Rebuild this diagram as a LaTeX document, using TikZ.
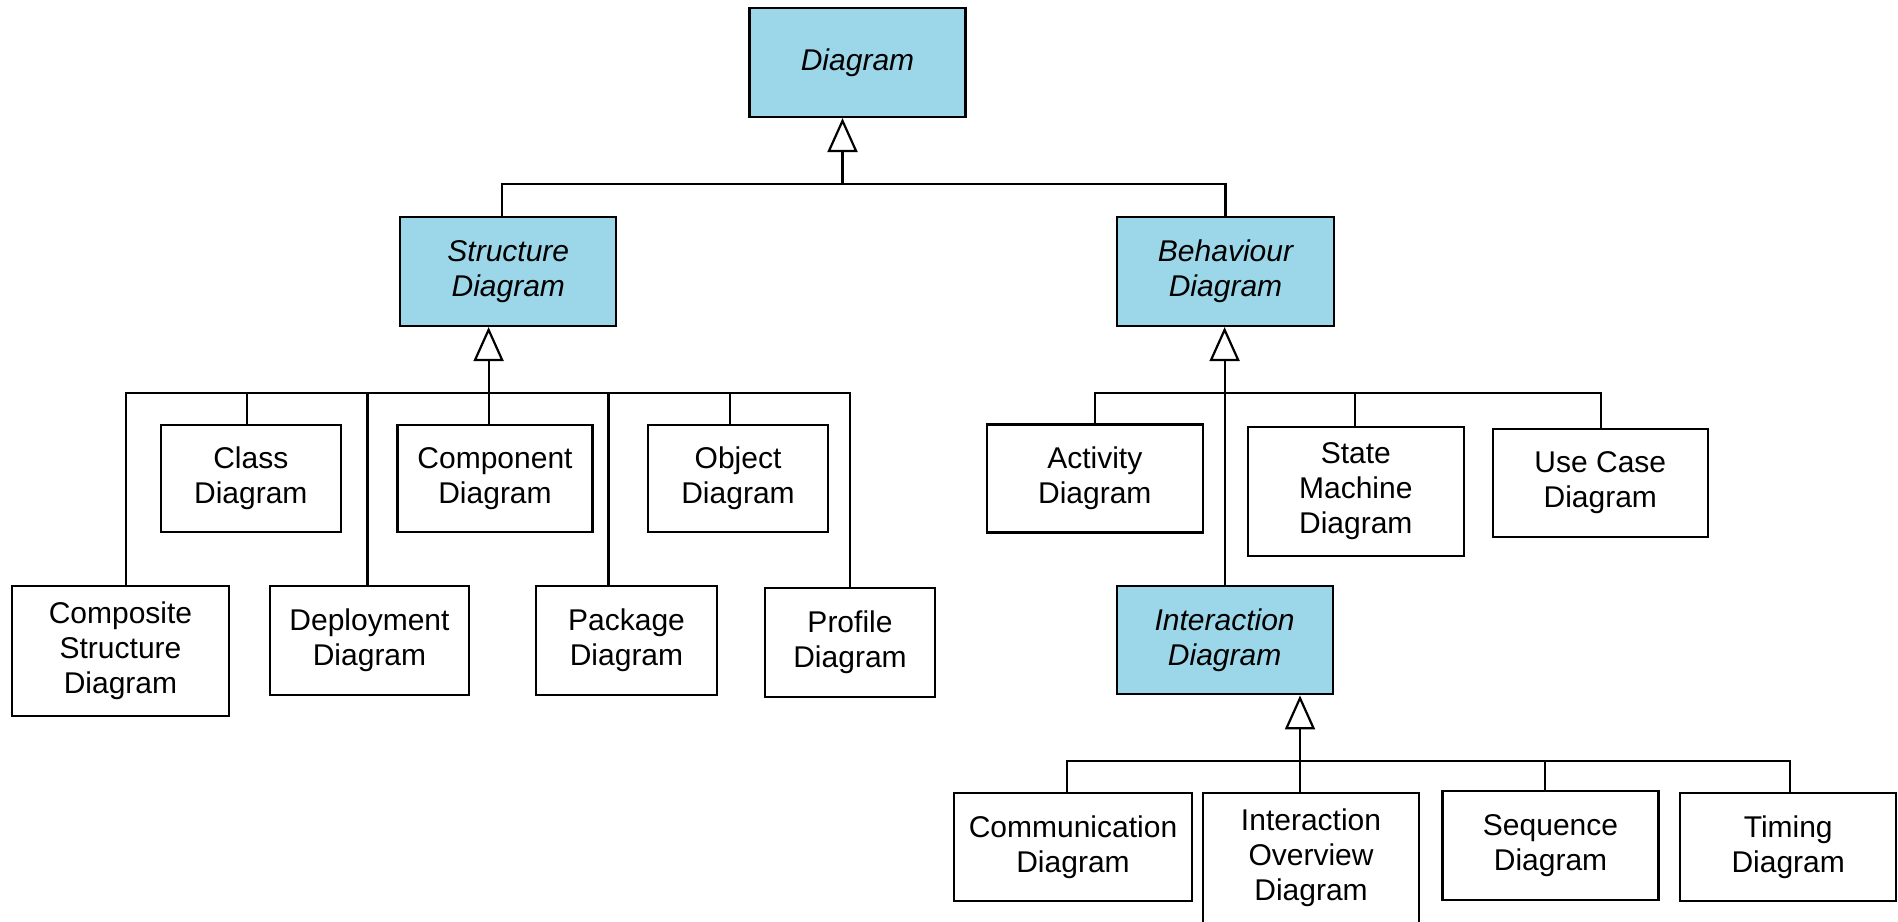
\documentclass[tikz,border=0pt]{standalone}
\usepackage{fontspec}
\setmainfont{Liberation Sans}
\usetikzlibrary{arrows.meta}
\definecolor{abstractblue}{RGB}{155,215,232}
\tikzset{
  sz/.style 2 args={minimum width={#1*0.5pt}, minimum height={#2*0.5pt}},
  uml/.style={draw=black, line width=1.1pt, fill=white, inner sep=0pt, align=center,
    font=\fontsize{15pt}{17.5pt}\selectfont},
  abstract/.style={uml, fill=abstractblue, font=\fontsize{15pt}{17.5pt}\selectfont\itshape},
  link/.style={line width=1.1pt, line cap=rect},
  gen/.style={line width=1.1pt, -{Triangle[open, length=17pt, width=15pt]}},
}
\begin{document}
\begin{tikzpicture}[x=0.5pt, y=-0.5pt]
\useasboundingbox (0,0) rectangle (1898,921);

% abstract diagram kinds
\node[abstract, sz={216}{109}] (diagram)     at (857.5,62.5)  {Diagram};
\node[abstract, sz={216}{109}] (structure)   at (508.3,271.5) {Structure\\Diagram};
\node[abstract, sz={217}{109}] (behaviour)   at (1225.5,271.5){Behaviour\\Diagram};
\node[abstract, sz={216}{108}] (interaction) at (1224.6,640.3){Interaction\\Diagram};

% structure diagrams
\node[uml, sz={180}{107}] (class)       at (250.8,478.5) {Class\\Diagram};
\node[uml, sz={195}{107}] (component)   at (495,478.5)   {Component\\Diagram};
\node[uml, sz={180}{107}] (object)      at (738,478.5)   {Object\\Diagram};
\node[uml, sz={217}{130}] (composite)   at (120.5,651)   {Composite\\Structure\\Diagram};
\node[uml, sz={199}{109}] (deployment)  at (369.5,640.5) {Deployment\\Diagram};
\node[uml, sz={181}{109}] (package)     at (626.5,640.5) {Package\\Diagram};
\node[uml, sz={170}{109}] (profile)     at (850,642.5)   {Profile\\Diagram};

% behaviour diagrams
\node[uml, sz={216}{108}] (activity)    at (1094.8,478.5){Activity\\Diagram};
\node[uml, sz={216}{129}] (statemach)   at (1355.8,491.5){State\\Machine\\Diagram};
\node[uml, sz={215}{108}] (usecase)     at (1600.3,483)  {Use Case\\Diagram};

% interaction diagrams
\node[uml, sz={238}{108}] (communication) at (1073,847.3) {Communication\\Diagram};
\node[uml, sz={216}{130}] (overview)      at (1311,858)   {Interaction\\Overview\\Diagram};
\node[uml, sz={216}{109}] (sequence)      at (1550.5,845.5){Sequence\\Diagram};
\node[uml, sz={216}{108}] (timing)        at (1788.2,847) {Timing\\Diagram};

% junctions on the buses
\coordinate (topjoin) at (842.5,184);
\coordinate (topL) at (502,184);
\coordinate (topR) at (1225.5,184);

\coordinate (sjoin) at (488.6,392.7);
\coordinate (s1) at (126.3,392.7);
\coordinate (s2) at (246.8,392.7);
\coordinate (s3) at (367.4,392.7);
\coordinate (s5) at (608.5,392.7);
\coordinate (s6) at (729.6,392.7);
\coordinate (s7) at (850.2,392.7);

\coordinate (bjoin) at (1224.6,392.7);
\coordinate (b1) at (1094.8,392.7);
\coordinate (b3) at (1354.8,392.7);
\coordinate (b4) at (1601,392.7);

\coordinate (ijoin) at (1300,761);
\coordinate (i1) at (1066.8,761);
\coordinate (i3) at (1544.8,761);
\coordinate (i4) at (1789.8,761);

% Diagram generalisation
\draw[gen] (topjoin) -- (topjoin |- diagram.south);
\draw[link] (topL |- structure.north) -- (topL) -- (topR) -- (topR |- behaviour.north);

% Structure Diagram generalisation
\draw[gen] (sjoin) -- (sjoin |- structure.south);
\draw[link] (s1 |- composite.north) -- (s1) -- (s7) -- (s7 |- profile.north);
\draw[link] (s2) -- (s2 |- class.north);
\draw[link] (s3) -- (s3 |- deployment.north);
\draw[link] (sjoin) -- (sjoin |- component.north);
\draw[link] (s5) -- (s5 |- package.north);
\draw[link] (s6) -- (s6 |- object.north);

% Behaviour Diagram generalisation
\draw[gen] (bjoin) -- (bjoin |- behaviour.south);
\draw[link] (b1 |- activity.north) -- (b1) -- (b4) -- (b4 |- usecase.north);
\draw[link] (b3) -- (b3 |- statemach.north);
\draw[link] (bjoin) -- (interaction.north);

% Interaction Diagram generalisation
\draw[gen] (ijoin) -- (ijoin |- interaction.south);
\draw[link] (i1 |- communication.north) -- (i1) -- (i4) -- (i4 |- timing.north);
\draw[link] (ijoin) -- (ijoin |- overview.north);
\draw[link] (i3) -- (i3 |- sequence.north);
\end{tikzpicture}
\end{document}
